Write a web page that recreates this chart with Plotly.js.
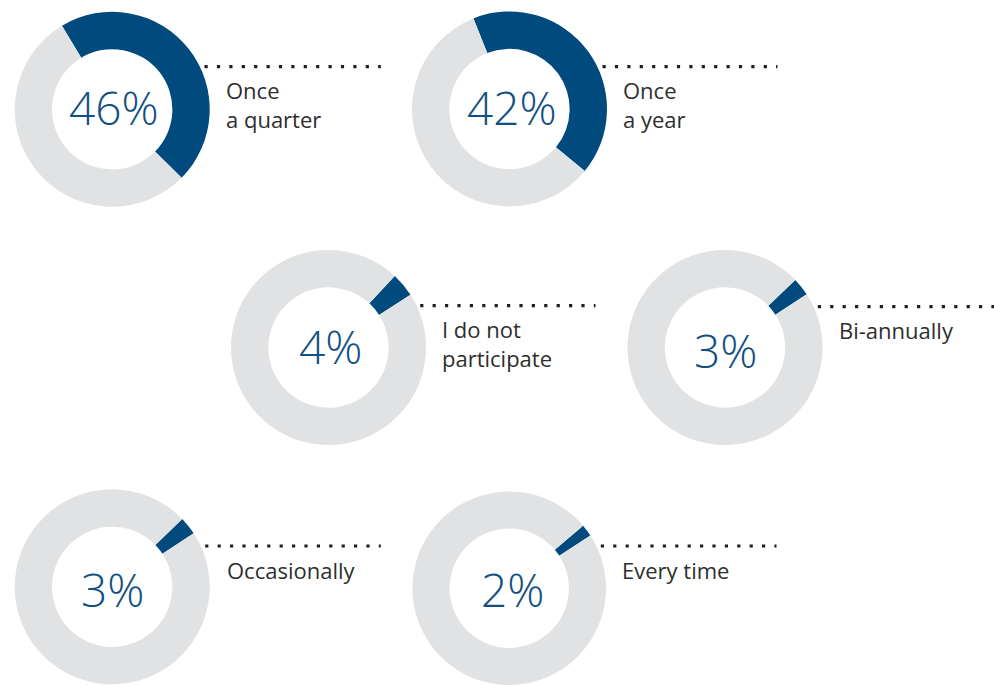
<!DOCTYPE html>
<html><head><meta charset="utf-8">
<script src="https://cdn.plot.ly/plotly-3.0.1.min.js"></script>
<style>html,body{margin:0;padding:0;background:#fff;}#chart{width:994px;height:685px;}</style>
</head><body><div id="chart"></div>
<script>
// ---- data ----
const categories = ["Once<br>a quarter", "Once<br>a year", "I do not<br>participate", "Bi-annually", "Occasionally", "Every time"];
const percentages = [46, 42, 4, 3, 3, 2];
const sliceNames = ["Share", "Others"];

// ---- layout / geometry (pixels) ----
const W = 994, H = 685, R = 97.5, HOLE = 0.617;
const centers = [[112.2, 109.3], [509.5, 109], [328.5, 347.5], [725, 347.5], [112.2, 586.8], [509.2, 589]];
const rotations = [-31, -21.7, 42.8, 46.1, 45.9, 49.8];
const pctPos = [[113.5, 107], [511.5, 107.5], [330, 346.5], [725.5, 350], [112, 589], [512, 589]];
const labelPos = [[227, 100], [624, 100], [442.7, 339.3], [840, 340.7], [227.7, 580], [622.7, 580]];
const dotLines = [[206, 379.3, 66.7], [604, 776, 66.7], [421.7, 594, 305.7], [819.3, 992.7, 306.7], [206.7, 379.3, 546], [602.3, 775, 546]];

const BLUE = "#014a7d", GREY = "#e1e2e4", PCT = "#124f82", TXT = "#2e2e2e";
const px = x => x / W, py = y => 1 - y / H;

const traces = percentages.map((p, i) => {
  const [cx, cy] = centers[i];
  return {
    type: "pie",
    labels: sliceNames,
    values: [p, 100 - p],
    sort: false,
    direction: "clockwise",
    rotation: rotations[i],
    hole: HOLE,
    textinfo: "none",
    hoverinfo: "skip",
    marker: {colors: [BLUE, GREY], line: {width: 0}},
    domain: {x: [px(cx - R), px(cx + R)], y: [py(cy + R), py(cy - R)]},
    showlegend: false
  };
});

const annotations = [];
percentages.forEach((p, i) => {
  annotations.push({
    xref: "paper", yref: "paper", x: px(pctPos[i][0]), y: py(pctPos[i][1]),
    xanchor: "center", yanchor: "middle", showarrow: false,
    text: p + "%",
    font: {family: "Open Sans", size: 46, color: PCT, weight: 300}
  });
  annotations.push({
    xref: "paper", yref: "paper",
    x: px(labelPos[i][0] - 3), y: py(labelPos[i][1] - 27.5),
    xanchor: "left", yanchor: "top", align: "left", showarrow: false,
    text: categories[i],
    font: {family: "Open Sans", size: 22, color: TXT}
  });
});

const shapes = dotLines.map(d => ({
  type: "line", xref: "paper", yref: "paper",
  x0: px(d[0] - 1.5), x1: px(d[1] + 1.5), y0: py(d[2]), y1: py(d[2]),
  line: {color: "#1f1f1f", width: 3.2, dash: "3.2px,9.2px"}
}));

Plotly.newPlot("chart", traces, {
  width: W, height: H,
  margin: {l: 0, r: 0, t: 0, b: 0},
  paper_bgcolor: "#ffffff", plot_bgcolor: "#ffffff",
  annotations: annotations, shapes: shapes
}, {displayModeBar: false, staticPlot: true});
</script></body></html>
